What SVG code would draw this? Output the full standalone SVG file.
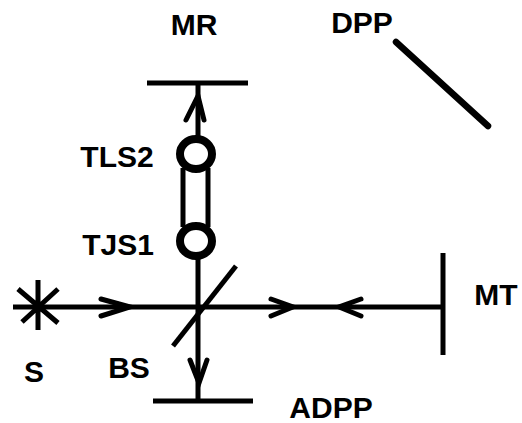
<svg xmlns="http://www.w3.org/2000/svg" width="522" height="423" viewBox="0 0 522 423">
<style>
.ln{stroke:#000;stroke-width:5;fill:none;stroke-linecap:butt}
.ar{stroke:#000;stroke-width:5;fill:none;stroke-linejoin:miter;stroke-linecap:round}
.lb{font-family:"Liberation Sans",Arial,sans-serif;font-weight:bold;font-size:30px;fill:#000;text-anchor:middle}
</style>
<rect width="522" height="423" fill="#fff"/>
<g id="connectors">
<line class="ln" x1="13" y1="307" x2="443" y2="307"/>
<line class="ln" x1="198" y1="83" x2="198" y2="137"/>
<line class="ln" x1="198" y1="257" x2="198" y2="401"/>
<path class="ar" d="M101,299 L130,307 L101,316"/>
<path class="ar" d="M271,299 L293,307 L271,316"/>
<path class="ar" d="M361,299 L339,307 L361,316"/>
<path class="ar" d="M190,360 L199,383 L207,360"/>
<path class="ar" d="M186,120 L198,96 L204,120"/>
</g>
<g id="S">
<path class="ln" d="M38,280 L38,330 M18,289 L58,323 M58,289 L22,322"/>
<text class="lb" x="34" y="382">S</text>
</g>
<g id="BS">
<line class="ln" x1="236" y1="266" x2="173" y2="346"/>
<text class="lb" x="129" y="378">BS</text>
</g>
<g id="MR">
<line class="ln" x1="147" y1="83" x2="248" y2="83" stroke-width="6"/>
<text class="lb" x="194" y="35">MR</text>
</g>
<g id="DPP">
<path d="M396,42 L488,126" stroke="#000" stroke-width="6.5" stroke-linecap="round" fill="none"/>
<text class="lb" x="362" y="33">DPP</text>
</g>
<g id="MT">
<line class="ln" x1="443" y1="253" x2="443" y2="355"/>
<text class="lb" x="496" y="305">MT</text>
</g>
<g id="ADPP">
<line class="ln" x1="153" y1="401" x2="253" y2="401"/>
<text class="lb" x="331" y="418">ADPP</text>
</g>
<g id="TLS2">
<ellipse cx="196" cy="154" rx="16" ry="15" fill="none" stroke="#000" stroke-width="8"/>
<line class="ln" x1="183" y1="168" x2="183" y2="227"/>
<line class="ln" x1="208" y1="168" x2="208" y2="227"/>
<text class="lb" x="117" y="167">TLS2</text>
</g>
<g id="TJS1">
<ellipse cx="196" cy="241" rx="16" ry="15" fill="none" stroke="#000" stroke-width="8"/>
<text class="lb" x="118" y="255">TJS1</text>
</g>
</svg>
